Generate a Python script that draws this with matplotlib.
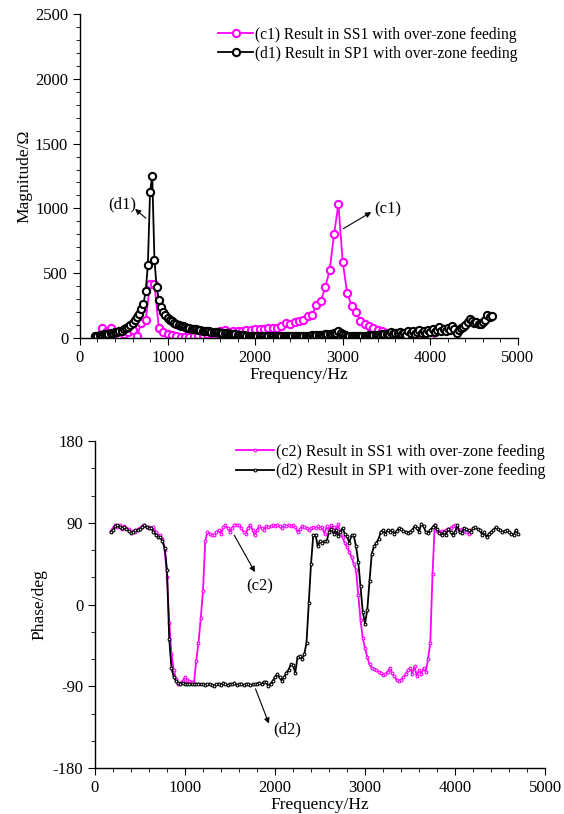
import numpy as np
import matplotlib
matplotlib.use("Agg")
import matplotlib.pyplot as plt
from matplotlib.ticker import MultipleLocator

# ---- (c1) magnitude, SS1 ----
c1_freq = [250, 300, 350, 400, 450, 500, 550, 600, 650, 700, 750, 800, 850, 900, 950,
           1000, 1050, 1100, 1150, 1200, 1250, 1300, 1350, 1400, 1450, 1500, 1550, 1600,
           1650, 1700, 1750, 1800, 1850, 1900, 1950, 2000, 2050, 2100, 2150, 2200, 2250,
           2300, 2350, 2400, 2450, 2500, 2550, 2600, 2650, 2700, 2750, 2800, 2850, 2900,
           2950, 3000, 3050, 3100, 3150, 3200, 3250, 3300, 3350, 3400, 3450, 3500, 3550,
           3600, 3650, 3700, 3750, 3800, 3850, 3900, 3950, 4000]
c1_mag = [80, 45, 80, 40, 25, 30, 45, 60, 13, 115, 136, 416, 416, 77, 45,
          30, 20, 12, 8, 5, 8, 15, 20, 25, 30, 35, 40, 55,
          60, 45, 50, 55, 55, 62, 65, 68, 70, 72, 74, 78, 80,
          95, 118, 105, 122, 128, 135, 172, 180, 257, 283, 393, 521, 800,
          1033, 583, 347, 249, 200, 134, 110, 90, 75, 60, 50, 40, 32,
          25, 18, 10, 6, 5, 5, 6, 8, 10]

# ---- (d1) magnitude, SP1, 25 Hz steps from 175 to 4700 Hz ----
d1_f0, d1_f1, d1_step = 175, 4700, 25
d1_mag = ([15, 18, 22, 25, 28, 31, 34, 37, 40, 44, 48, 52, 57]                      # 175-475
          + [70, 78, 88, 100, 115, 135, 160, 185, 220, 265, 360, 563, 1128, 1250]   # 500-825
          + [605, 392, 293, 242, 200, 175, 155, 140, 128, 118, 110, 102, 96, 90,   # 850-1175
             85, 80, 76, 72, 69, 66, 63, 60, 57, 55, 53, 51, 49, 47, 45, 43,      # 1200-1575
             41, 39, 37, 35, 33, 31, 30, 28, 26, 24, 22, 20, 15, 12, 12, 12]      # 1600-1975
          + [14, 13, 12, 13, 12, 11, 12, 13, 12, 11, 12, 13, 14, 12, 13, 15, 14,   # 2000-2400
             13, 15, 16, 15, 17, 16, 18, 17, 19, 20, 19, 22, 24, 23, 26, 28, 27,   # 2425-2825
             30, 32, 35, 40, 50, 38, 30, 20, 15, 14]                              # 2850-3075
          + [14, 15, 15, 16, 17, 17, 18, 19, 20, 21, 22, 23, 24, 25, 27, 28, 30]   # 3100-3500
          + [32, 45, 28, 40, 35, 48, 30, 42, 25, 50, 38, 55, 33, 45, 60, 40, 52,   # 3525-3925
             35, 62, 48]                                                          # 3950-4000
          + [70, 45, 65, 88, 55, 72, 50, 80, 60, 90, 70, 35]                      # 4025-4300
          + [60, 75, 85, 100, 120, 150, 131, 113, 120, 105, 110, 125, 140, 180,   # 4325-4650
             165, 170])                                                           # 4675-4700

# ---- (c2) phase, SS1, 25 Hz steps from 175 to 4150 Hz ----
c2_f0, c2_f1, c2_step = 175, 4150, 25
c2_phase = [81, 84, 88, 85, 88, 83, 86, 84, 83, 80, 81, 80, 83, 84, 86, 87, 85, 85,    # 175-600
            84, 85, 80, 76, 76, 72, 60, 30, -20, -55, -72, -82, -88, -86, -84, -80,  # 625-1000
            -83, -84, -85, -86, -62, -42, -15, 15, 70, 80, 78, 77, 76, 80, 82, 78,   # 1025-1400
            85, 87, 84, 80, 84, 88, 88, 87, 84, 80, 78, 84, 88, 82, 76, 82,          # 1425-1800
            86, 84, 82, 86, 85, 86, 87, 86, 88, 86, 84, 87, 86, 88, 86, 87,          # 1825-2200
            85, 80, 83, 86, 85, 84, 82, 84, 85, 84, 86, 84, 85, 78, 86, 82,          # 2225-2600
            87, 85, 80, 89, 78, 74, 68, 63, 58, 52, 45, 38, 10, -17, -37, -48,       # 2625-3000
            -58, -66, -70, -71, -72, -74, -75, -78, -77, -74, -70, -75, -79, -83,    # 3025-3350
            -84, -83, -80, -77, -72, -70, -76, -68, -79, -72, -77, -70, -74, -60,    # 3375-3700
            -42, 34, 88, 81, 80, 81, 80, 82, 83, 84, 86, 87, 84, 82, 83, 82, 80, 78] # 3725-4150

# ---- (d2) phase, SP1, 25 Hz steps from 175 to 4700 Hz ----
d2_f0, d2_f1, d2_step = 175, 4700, 25
d2_phase = [80, 82, 86, 87, 85, 84, 85, 83, 81, 79, 80, 82, 82, 83, 85, 87, 85, 84,    # 175-600
            84, 80, 77, 74, 74, 70, 62, 38, -38, -70, -80, -84, -86, -87, -86, -87,  # 625-1000
            -87, -88, -88, -88, -88, -87, -88, -88, -89, -88, -87, -89, -90, -88,    # 1025-1350
            -87, -89, -86, -88, -89, -87, -88, -86, -89, -88, -87, -89, -88, -87,    # 1375-1700
            -89, -88, -88, -87, -86, -88, -85, -85, -90, -87, -84, -80, -77, -80,    # 1725-2050
            -84, -80, -75, -72, -66, -67, -75, -58, -57, -60, -55, -42, 2, 45, 76,   # 2075-2425
            77, 64, 70, 68, 70, 70, 80, 83, 78, 82, 75, 80, 84, 78, 75, 68, 76, 76,  # 2450-2875
            64, 47, 20, -8, -21, -6, 26, 56, 64, 68, 72, 80, 82, 78, 82, 80, 82, 78, # 2900-3325
            81, 84, 83, 81, 80, 79, 80, 82, 86, 84, 80, 89, 86, 80, 79, 82, 85, 88,  # 3350-3775
            83, 79, 76, 80, 77, 83, 80, 76, 80, 87, 80, 79, 84, 83, 82, 80, 84, 85,  # 3800-4225
            83, 82, 77, 80, 74, 78, 80, 82, 85, 83, 82, 80, 81, 82, 80, 78, 76, 82,  # 4250-4675
            78]                                                                      # 4700

d1_freq = np.arange(d1_f0, d1_f1 + 1, d1_step)
c2_freq = np.arange(c2_f0, c2_f1 + 1, c2_step)
d2_freq = np.arange(d2_f0, d2_f1 + 1, d2_step)

MAG = "#FF00FF"
plt.rcParams.update({"font.family": "Liberation Serif", "font.size": 12,
                     "axes.unicode_minus": False,
                     "xtick.direction": "out", "ytick.direction": "out",
                     "xtick.major.size": 5, "ytick.major.size": 5,
                     "xtick.minor.size": 3, "ytick.minor.size": 3,
                     "axes.linewidth": 1.0})

fig = plt.figure(figsize=(5.64, 8.14), dpi=100)
ax1 = fig.add_axes([0.1418, 0.5848, 0.7766, 0.398])
ax2 = fig.add_axes([0.1684, 0.0565, 0.798, 0.4017])
arrow = dict(arrowstyle="-|>", color="black", lw=0.8, mutation_scale=8)

# top: magnitude
ax1.plot(c1_freq, c1_mag, color=MAG, lw=1.3, marker="o", ms=5.2, mfc="white", mew=1.5,
         label="(c1) Result in SS1 with over-zone feeding")
ax1.plot(d1_freq, d1_mag, color="black", lw=1.3, marker="o", ms=5.2, mfc="white", mew=1.5,
         label="(d1) Result in SP1 with over-zone feeding")
ax1.set_xlim(0, 5000); ax1.set_ylim(0, 2500)
ax1.xaxis.set_major_locator(MultipleLocator(1000)); ax1.xaxis.set_minor_locator(MultipleLocator(200))
ax1.yaxis.set_major_locator(MultipleLocator(500)); ax1.yaxis.set_minor_locator(MultipleLocator(100))
ax1.set_xlabel("Frequency/Hz", fontsize=12.5, labelpad=1)
ax1.set_ylabel("Magnitude/Ω", fontsize=12.5, labelpad=2)
ax1.text(480, 1034, "(d1)", ha="center", va="center", fontsize=12)
ax1.annotate("", xy=(605, 1010), xytext=(776, 910), arrowprops=arrow)
ax1.text(3516, 995, "(c1)", ha="center", va="center", fontsize=12)
ax1.annotate("", xy=(3352, 982), xytext=(2980, 833), arrowprops=arrow)
ax1.legend(loc="upper right", bbox_to_anchor=(1.02, 0.99), frameon=False, fontsize=11.2,
           handlelength=2.3, handletextpad=0.1, labelspacing=0.2, borderaxespad=0.2)

# bottom: phase
ax2.plot(c2_freq, c2_phase, color=MAG, lw=1.3, marker="o", ms=2, mfc="white", mew=0.8,
         label="(c2) Result in SS1 with over-zone feeding")
ax2.plot(d2_freq, d2_phase, color="black", lw=1.3, marker="o", ms=2, mfc="white", mew=0.8,
         label="(d2) Result in SP1 with over-zone feeding")
ax2.set_xlim(0, 5000); ax2.set_ylim(-180, 180)
ax2.xaxis.set_major_locator(MultipleLocator(1000)); ax2.xaxis.set_minor_locator(MultipleLocator(200))
ax2.yaxis.set_major_locator(MultipleLocator(90)); ax2.yaxis.set_minor_locator(MultipleLocator(30))
ax2.set_xlabel("Frequency/Hz", fontsize=12.5, labelpad=1)
ax2.set_ylabel("Phase/deg", fontsize=12.5)
ax2.text(1833, 20, "(c2)", ha="center", va="center", fontsize=12)
ax2.annotate("", xy=(1792, 33), xytext=(1532, 79), arrowprops=arrow)
ax2.text(2133, -137, "(d2)", ha="center", va="center", fontsize=12)
ax2.annotate("", xy=(1944, -134), xytext=(1772, -90), arrowprops=arrow)
ax2.legend(loc="upper right", bbox_to_anchor=(1.022, 1.02), frameon=False, fontsize=11.5,
           handlelength=2.4, handletextpad=0.1, labelspacing=0.2, borderaxespad=0.2)

for ax in (ax1, ax2):
    ax.spines["top"].set_visible(False)
    ax.spines["right"].set_visible(False)

fig.savefig("out.png", dpi=100)
